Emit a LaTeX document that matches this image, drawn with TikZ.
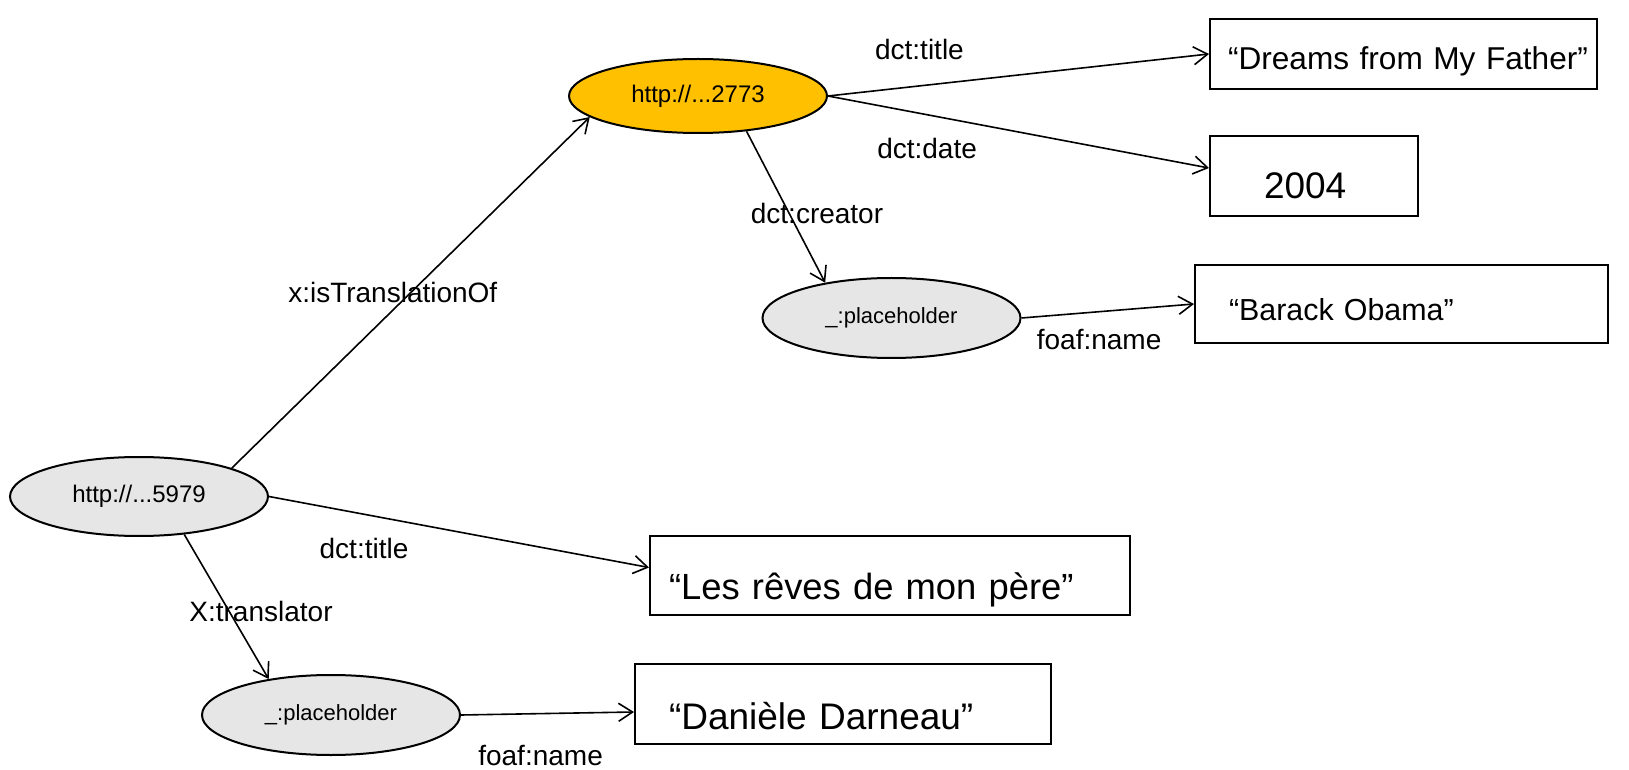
\documentclass[tikz,border=0pt]{standalone}
\usepackage{fontspec}
\setmainfont{Liberation Sans}
\usetikzlibrary{positioning, shapes.geometric, arrows.meta}

\definecolor{workorange}{HTML}{FFC000}
\definecolor{blankgrey}{HTML}{E6E6E6}

\begin{document}
\begin{tikzpicture}[x=0.5pt, y=-0.5pt,
      >={Straight Barb[length=7pt,width=9pt]},
      res/.style={ellipse, draw, line width=1pt, fill=blankgrey, minimum width=129pt, minimum height=40pt, inner sep=0pt},
      lit/.style={rectangle, draw, line width=1pt, align=left, inner ysep=0pt, text depth=0pt},
      rel/.style={->, line width=0.8pt},
      lbl/.style={font=\fontsize{14}{16}\selectfont, inner sep=0pt}]
    \useasboundingbox (0,0) rectangle (1629,770);
    % resources
    \node[res, fill=workorange, minimum height=37pt, font=\fontsize{12}{14}\selectfont] (work) at (698,96) {http://...2773};
    \node[res, minimum height=39.5pt, font=\fontsize{12}{14}\selectfont] (trans) at (139,496.5) {http://...5979};
    \node[res, font=\fontsize{11}{13}\selectfont] (ph1) at (891.5,318) {\_:placeholder};
    \node[res, font=\fontsize{11}{13}\selectfont] (ph2) at (331,715) {\_:placeholder};
    % literals
    \node[lit, minimum height=35pt, inner xsep=9pt, text width=175.5pt, text height=16pt, font=\fontsize{15.8}{19}\selectfont] (dreams) at (1403.5,54) {\mbox{“Dreams from My Father”}};
    \node[lit, minimum height=40pt, inner xsep=27pt, text width=50pt, text height=23pt, font=\fontsize{18.5}{22}\selectfont] (n2004) at (1314,176) {2004};
    \node[lit, minimum height=39pt, inner xsep=17pt, text width=172.5pt, text height=17pt, font=\fontsize{15.2}{18}\selectfont] (barack) at (1401.5,304) {“Barack Obama”};
    \node[lit, minimum height=39.5pt, inner xsep=9.5pt, text width=221pt, text height=24pt, font=\fontsize{18.2}{22}\selectfont] (les) at (890,575.5) {“Les rêves de mon père”};
    \node[lit, minimum height=40pt, inner xsep=17pt, text width=174pt, text height=25pt, font=\fontsize{18.5}{22}\selectfont] (dan) at (843,704) {“Danièle Darneau”};
    % relations
    \draw[rel] (trans.17) -- (work.-169) node[lbl, pos=0.5, xshift=-9pt] (l1) {x:isTranslationOf};
    \draw[rel] (work.east) -- (dreams.west) node[lbl, pos=0.24, yshift=18pt] (l2) {dct:title};
    \draw[rel] (work.east) -- ([yshift=4pt]n2004.west) node[lbl, pos=0.26, yshift=-17pt] (l3) {dct:date};
    \draw[rel] (work.-36) -- (ph1.152) node[lbl, pos=0.54, xshift=14pt] (l4) {dct:creator};
    \draw[rel] (ph1.east) -- (barack.west) node[lbl, pos=0.45, yshift=-14pt] (l5) {foaf:name};
    \draw[rel] (trans.east) -- ([yshift=4pt]les.west) node[lbl, pos=0.25, yshift=-17pt] (l6) {dct:title};
    \draw[rel] (trans.-40) -- (ph2.150) node[lbl, pos=0.53, xshift=16pt] (l7) {X:translator};
    \draw[rel] (ph2.east) -- ([yshift=-4pt]dan.west) node[lbl, pos=0.46, yshift=-21pt] (l8) {foaf:name};
\end{tikzpicture}
\end{document}
